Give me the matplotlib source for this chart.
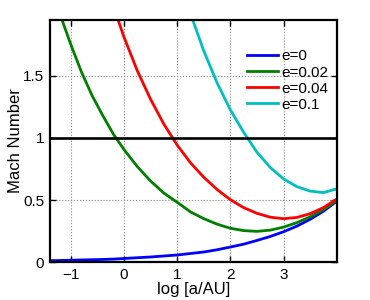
import matplotlib
matplotlib.use("Agg")
import matplotlib.pyplot as plt

plt.rcParams["font.family"] = ["Liberation Sans", "DejaVu Sans"]

# log10 of semi-major axis [AU]
log_a = [-1.4, -1.2, -1.0, -0.8, -0.6, -0.4, -0.2, 0.0, 0.25, 0.5, 0.75, 1.0,
         1.25, 1.5, 1.75, 2.0, 2.25, 2.5, 2.75, 3.0, 3.25, 3.5, 3.75, 4.0]

mach_e0 = [0.012, 0.014, 0.016, 0.018, 0.020, 0.022, 0.025, 0.030, 0.036, 0.042,
           0.050, 0.058, 0.070, 0.082, 0.100, 0.122, 0.145, 0.175, 0.207, 0.245,
           0.290, 0.345, 0.410, 0.490]
mach_e002 = [2.27, 1.99, 1.75, 1.53, 1.34, 1.18, 1.03, 0.906, 0.769, 0.653,
             0.556, 0.482, 0.405, 0.350, 0.306, 0.273, 0.254, 0.248, 0.258, 0.282,
             0.318, 0.365, 0.423, 0.496]
mach_e004 = [None, None, None, None, None, None, 2.06, 1.81, 1.54, 1.31,
             1.11, 0.942, 0.80, 0.683, 0.585, 0.503, 0.439, 0.393, 0.362, 0.350,
             0.360, 0.390, 0.439, 0.507]
mach_e01 = [None] * 12 + [2.00, 1.70, 1.443, 1.226, 1.045, 0.885, 0.762, 0.670,
                          0.608, 0.572, 0.560, 0.590]

labels = ["e=0", "e=0.02", "e=0.04", "e=0.1"]
colors = ["#0000ff", "#007f00", "#ff0000", "#00bfbf"]
series = [mach_e0, mach_e002, mach_e004, mach_e01]

fig = plt.figure(figsize=(3.7, 3.0), dpi=100)
ax = fig.add_axes([0.134, 0.126, 0.776, 0.808])

for vals, lab, col in zip(series, labels, colors):
    xs = [x for x, v in zip(log_a, vals) if v is not None]
    ys = [v for v in vals if v is not None]
    ax.plot(xs, ys, color=col, lw=2.0, label=lab, solid_joinstyle="round")

ax.axhline(1, color="black", lw=1.9)

ax.set_xlim(-1.4, 4)
ax.set_ylim(0, 1.95)
ax.set_xticks([-1, 0, 1, 2, 3])
ax.set_yticks([0, 0.5, 1, 1.5])
ax.set_yticklabels(["0", "0.5", "1", "1.5"])
ax.set_xticklabels(["\u22121", "0", "1", "2", "3"])

ax.grid(True, color="0.55", linestyle=":", lw=0.8)
ax.tick_params(direction="in", top=True, right=True, length=4, width=1,
               labelsize=11, pad=4)
for sp in ax.spines.values():
    sp.set_linewidth(1.6)

ax.set_xlabel("log [a/AU]", fontsize=12, labelpad=0)
ax.set_ylabel("Mach Number", fontsize=12, labelpad=0)

ax.legend(loc="upper left", bbox_to_anchor=(0.688, 0.878), frameon=False,
          fontsize=11, handlelength=2.0, handletextpad=0.27,
          labelspacing=0.14, borderaxespad=0, borderpad=0)

fig.savefig("out.png", dpi=100)
